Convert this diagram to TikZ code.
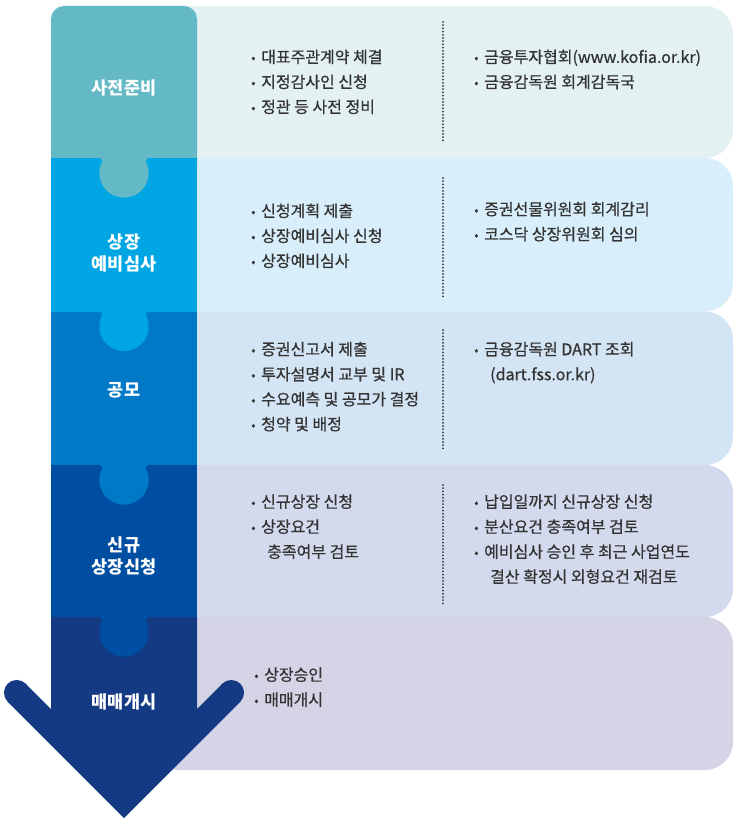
\documentclass[tikz,border=0pt]{standalone}
\usepackage{fontspec}
\setmainfont{Noto Sans CJK KR}
\newfontfamily\bodyf[FakeBold=0.6]{Noto Sans CJK KR}
\definecolor{Lone}{HTML}{63B9C5}
\definecolor{Ltwo}{HTML}{00A5E3}
\definecolor{Lthree}{HTML}{0079C7}
\definecolor{Lfour}{HTML}{004EA2}
\definecolor{Lfive}{HTML}{143A84}
\definecolor{Pone}{HTML}{E4F1F3}
\definecolor{Ptwo}{HTML}{D8EEFA}
\definecolor{Pthree}{HTML}{D3E4F4}
\definecolor{Pfour}{HTML}{D4DAEE}
\definecolor{Pfive}{HTML}{D5D4E6}
\definecolor{txt}{HTML}{333333}
\newcommand{\bu}{\strut\makebox[10pt][l]{\raisebox{0.5pt}{\fontsize{13}{13}\selectfont •}}}
\newcommand{\cn}{\strut\hspace*{16pt}}
\begin{document}
\begin{tikzpicture}[x=1pt,y=-1pt,
  body/.style={anchor=north west, inner sep=0pt, align=left, text=txt, font=\bodyf\fontsize{16}{25}\selectfont},
  lab/.style={inner sep=0pt, align=center, text=white, font=\fontsize{17.5}{22}\selectfont\bfseries},
  panel/.style={rounded corners=28},
  sep/.style={line width=2pt, line cap=round, dash pattern=on 0pt off 3.2pt, color=txt}]
\useasboundingbox (0,0) rectangle (743,832);
% right panels
\fill[Pone,panel] (150,6) rectangle (733,158);
\fill[Ptwo,panel] (150,158) rectangle (733,311.5);
\fill[Pthree,panel] (150,311.5) rectangle (733,465);
\fill[Pfour,panel] (150,465) rectangle (733,617);
\fill[Pfive,panel] (150,617) rectangle (733,770);
% left column
\fill[Lone,rounded corners=13] (51,6) rectangle (197,180);
\fill[Ltwo] (51,158) rectangle (197,311.5);
\fill[Lthree] (51,311.5) rectangle (197,465);
\fill[Lfour] (51,465) rectangle (197,617);
% arrow
\fill[Lfive] (51,617) -- (51,709) -- (25.7,683.7) -- (7.7,701.7) -- (124,818) -- (240.3,701.7) -- (222.3,683.7) -- (197,709) -- (197,617) -- cycle;
\fill[Lfive] (16.7,692.7) circle (12.75);
\fill[Lfive] (231.3,692.7) circle (12.75);
% knobs
\foreach \b/\c in {158/Lone, 311.5/Ltwo, 465/Lthree, 617/Lfour}{
  \fill[\c] (124,\b+15) circle (24.7);
  \fill[\c] (100,\b) -- (148,\b) -- (142,\b+6) -- (106,\b+6) -- cycle;
}
% separators
\draw[sep] (443,22) -- (443,143);
\draw[sep] (443,178) -- (443,297);
\draw[sep] (443,330) -- (443,450);
\draw[sep] (443,485) -- (443,604);
% labels
\node[lab] (l1) at (124,88) {사전준비};
\node[lab] (l2) at (124,252.5) {상장\\예비심사};
\node[lab] (l3) at (124,390) {공모};
\node[lab] (l4) at (124,556) {신규\\상장신청};
\node[lab] (l5) at (124,702) {매매개시};
% texts
\node[body] (r1l) at (251,45.2) {\bu 대표주관계약 체결\\\bu 지정감사인 신청\\\bu 정관 등 사전 정비};
\node[body] (r1r) at (474,45.2) {\bu 금융투자협회(www.kofia.or.kr)\\\bu 금융감독원 회계감독국};
\node[body] (r2l) at (251,199.2) {\bu 신청계획 제출\\\bu 상장예비심사 신청\\\bu 상장예비심사};
\node[body] (r2r) at (474,197.5) {\bu 증권선물위원회 회계감리\\\bu 코스닥 상장위원회 심의};
\node[body] (r3l) at (251,337.5) {\bu 증권신고서 제출\\\bu 투자설명서 교부 및 IR\\\bu 수요예측 및 공모가 결정\\\bu 청약 및 배정};
\node[body] (r3r) at (474,337.5) {\bu 금융감독원 DART 조회\\\cn (dart.fss.or.kr)};
\node[body] (r4l) at (251,490) {\bu 신규상장 신청\\\bu 상장요건\\\cn 충족여부 검토};
\node[body] (r4r) at (474,490) {\bu 납입일까지 신규상장 신청\\\bu 분산요건 충족여부 검토\\\bu 예비심사 승인 후 최근 사업연도\\\cn 결산 확정시 외형요건 재검토};
\node[body] (r5l) at (254,663) {\bu 상장승인\\\bu 매매개시};
\end{tikzpicture}
\end{document}
